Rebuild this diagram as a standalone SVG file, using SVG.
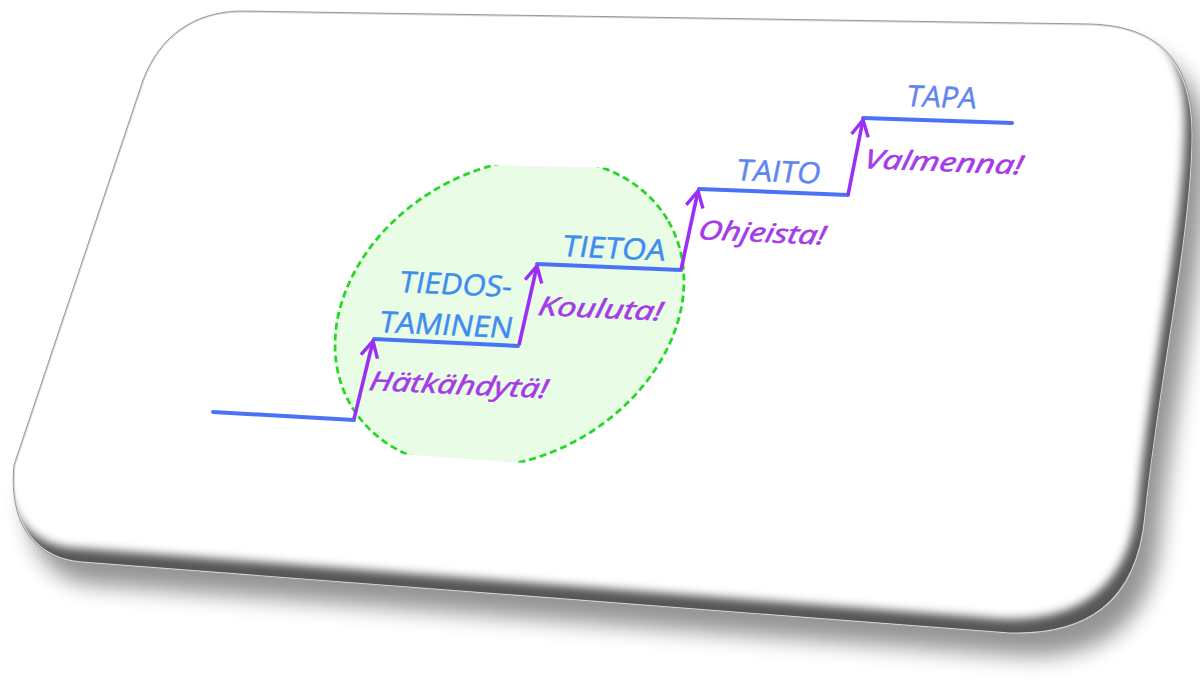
<svg xmlns="http://www.w3.org/2000/svg" width="1200" height="684" viewBox="0 0 1200 684">
  <style>
    .stage { font-family: "Open Sans", "Noto Sans", "DejaVu Sans", sans-serif; font-size: 29px; fill: #3f8cf0; stroke: #3f8cf0; stroke-width: 0.5; }
    .stage.far { fill: #5f86f0; stroke: #5f86f0; }
    .action { font-family: "Open Sans", "Noto Sans", "DejaVu Sans", sans-serif; font-style: italic; font-size: 26px; fill: #a53be8; stroke: #a53be8; stroke-width: 0.6; }
    .step { fill: none; stroke: #4a72f5; stroke-width: 4; stroke-linecap: round; }
    .rise { fill: none; stroke: #9b2ff5; stroke-width: 3.6; marker-end: url(#head); }
  </style>
  <defs>
    <!-- tilted rounded card -->
    <path id="cardShape" d="M 240,11 L 1090,24 C 1160,26 1193,62 1193,135 C 1193,230 1160,380 1146,515 C 1138,605 1085,636 1010,634 L 82,563 C 40,560 8,530 14,465 L 143,80 C 160,35 195,12 240,11 Z"/>
    <clipPath id="cardClip"><use href="#cardShape"/></clipPath>
    <clipPath id="ovalClip"><polygon points="300,161 720,170 720,477 300,447"/></clipPath>
    <filter id="dropBlur" x="-10%" y="-10%" width="130%" height="140%"><feGaussianBlur stdDeviation="11"/></filter>
    <filter id="bevelBlur" x="-10%" y="-10%" width="120%" height="120%"><feGaussianBlur stdDeviation="5"/></filter>
    <marker id="head" viewBox="-19 -11 21 22" refX="0" refY="0" markerWidth="21" markerHeight="22" markerUnits="userSpaceOnUse" orient="auto">
      <path d="M -16,-8.5 L 0,0 L -16,8.5" fill="none" stroke="#9b2ff5" stroke-width="3.4"/>
    </marker>
  </defs>

  <rect width="1200" height="684" fill="#ffffff"/>

  <!-- card with drop shadow and bevelled lower edges -->
  <g id="card">
    <use href="#cardShape" fill="#000" opacity="0.42" transform="translate(14,22)" filter="url(#dropBlur)"/>
    <g clip-path="url(#cardClip)">
      <use href="#cardShape" fill="#565656"/>
      <use href="#cardShape" fill="#ffffff" transform="translate(-8,-15)" filter="url(#bevelBlur)"/>
      <use href="#cardShape" fill="none" stroke="#d6d6d6" stroke-width="3"/>
    </g>
    <use href="#cardShape" fill="none" stroke="#9a9a9a" stroke-width="1"/>
  </g>

  <!-- highlighted early stages -->
  <g id="focus-area" clip-path="url(#ovalClip)">
    <ellipse cx="509.5" cy="313" rx="183.5" ry="144" transform="rotate(-30 509.5 313)" fill="#e8fce6" stroke="#28d828" stroke-width="2.8" stroke-dasharray="7 4"/>
  </g>

  <!-- staircase treads and rising arrows -->
  <g id="connectors">
    <line class="step" x1="213" y1="412" x2="354" y2="420"/>
    <line class="step" x1="374" y1="339" x2="518" y2="346"/>
    <line class="step" x1="537" y1="264" x2="681" y2="270"/>
    <line class="step" x1="699" y1="189" x2="848" y2="195"/>
    <line class="step" x1="863" y1="118" x2="1012" y2="123"/>
    <line class="rise" x1="354" y1="419" x2="373" y2="341"/>
    <line class="rise" x1="519" y1="345" x2="537" y2="266"/>
    <line class="rise" x1="681" y1="270" x2="698" y2="191"/>
    <line class="rise" x1="848" y1="195" x2="863" y2="120"/>
  </g>

  <!-- stage labels -->
  <g id="stage-tiedostaminen">
    <text class="stage" transform="matrix(1,0.045,-0.2,1,398,292)" textLength="112" lengthAdjust="spacingAndGlyphs">TIEDOS-</text>
    <text class="stage" transform="matrix(1,0.045,-0.2,1,378,332)" font-size="30" textLength="133" lengthAdjust="spacingAndGlyphs">TAMINEN</text>
  </g>
  <g id="stage-tietoa">
    <text class="stage" transform="matrix(1,0.045,-0.2,1,561,256)" font-size="31" textLength="103" lengthAdjust="spacingAndGlyphs">TIETOA</text>
  </g>
  <g id="stage-taito">
    <text class="stage far" transform="matrix(1,0.04,-0.2,1,735,180)" font-size="28" textLength="84" lengthAdjust="spacingAndGlyphs">TAITO</text>
  </g>
  <g id="stage-tapa">
    <text class="stage far" transform="matrix(1,0.035,-0.2,1,905,106)" font-size="24" textLength="70" lengthAdjust="spacingAndGlyphs">TAPA</text>
  </g>

  <!-- action labels -->
  <g id="action-hatkahdyta">
    <text class="action" transform="matrix(1,0.045,-0.2,1,368,390)" font-size="27" textLength="178" lengthAdjust="spacingAndGlyphs">Hätkähdytä!</text>
  </g>
  <g id="action-kouluta">
    <text class="action" transform="matrix(1,0.045,-0.2,1,537,315)" textLength="124" lengthAdjust="spacingAndGlyphs">Kouluta!</text>
  </g>
  <g id="action-ohjeista">
    <text class="action" transform="matrix(1,0.045,-0.2,1,697,239)" textLength="127" lengthAdjust="spacingAndGlyphs">Ohjeista!</text>
  </g>
  <g id="action-valmenna">
    <text class="action" transform="matrix(1,0.04,-0.2,1,863,168)" font-size="27" textLength="158" lengthAdjust="spacingAndGlyphs">Valmenna!</text>
  </g>
</svg>
